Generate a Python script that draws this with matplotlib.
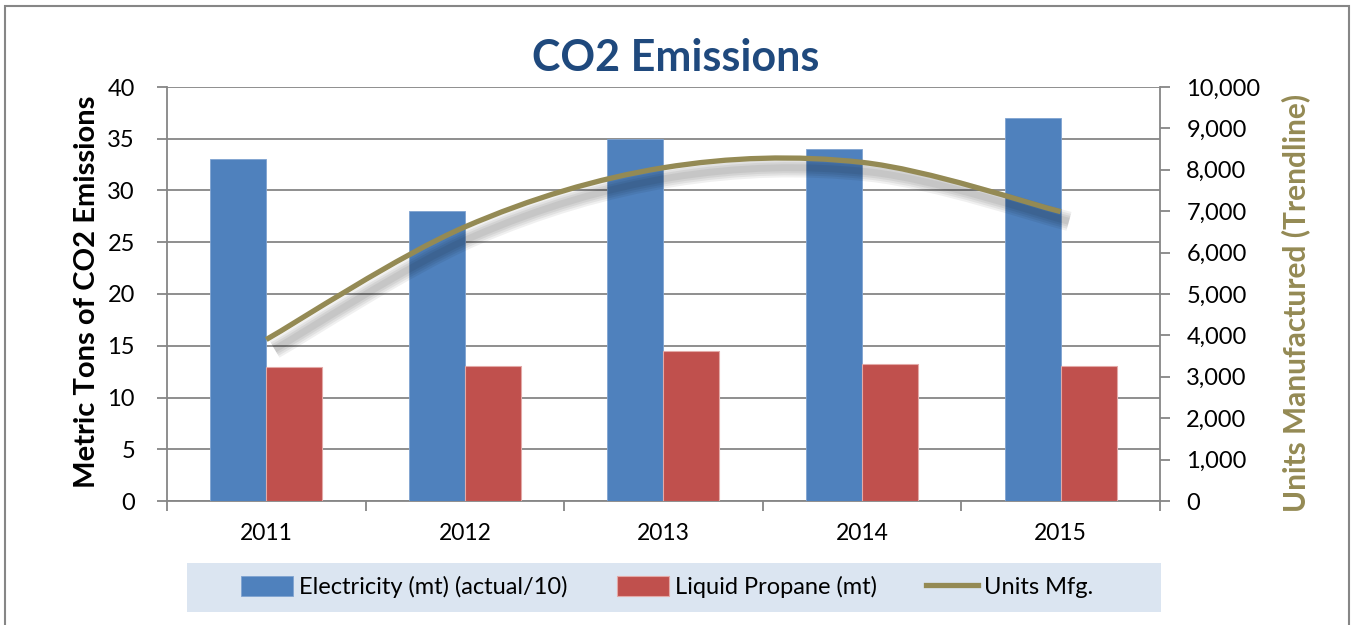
import numpy as np
import matplotlib.pyplot as plt
import matplotlib.patheffects as pe
from matplotlib.path import Path
from matplotlib.patches import PathPatch, Rectangle
from matplotlib.lines import Line2D
from matplotlib.ticker import FuncFormatter

years = ['2011', '2012', '2013', '2014', '2015']
electricity = [33, 28, 35, 34, 37]          # mt, actual/10
propane = [12.9, 13.0, 14.5, 13.2, 13.0]    # mt
units_mfg = [3900, 6620, 8050, 8180, 6990]  # trendline values

plt.rcParams['font.family'] = ['Lato', 'DejaVu Sans']
grey = '#868686'
olive = '#948A54'

fig = plt.figure(figsize=(13.54, 6.25), dpi=100)
# outer chart border
fig.add_artist(Rectangle((5/1354, -0.05), 1344/1354, 1.05 - 6/625, transform=fig.transFigure,
                         fill=False, edgecolor=grey, lw=1.5))

ax = fig.add_axes([0.1233, 0.1984, 0.7334, 0.6624])
ax2 = ax.twinx()

x = np.arange(len(years))
w = 0.282
b1 = ax.bar(x - w/2, electricity, w, color='#4F81BD', edgecolor='#7FA3D1', lw=0.6, zorder=3)
b2 = ax.bar(x + w/2, propane, w, color='#C0504D', edgecolor='#E3A9A7', lw=0.8, zorder=3)

ax.set_xlim(-0.5, 4.5)
ax.set_ylim(0, 40)
ax.set_yticks(range(0, 41, 5))
ax.set_axisbelow(True)
ax.yaxis.grid(True, color=grey, lw=1.3)
ax.set_xticks(np.arange(-0.5, 5, 1))
ax.set_xticklabels([])
ax.set_xticks(x, minor=True)
ax.set_xticklabels(years, minor=True)
ax.tick_params(axis='x', which='major', length=7, width=1.3, color=grey, direction='out')
ax.tick_params(axis='x', which='minor', length=0, pad=16, labelsize=16.5)
ax.tick_params(axis='y', length=7, width=1.3, color=grey, pad=16, labelsize=17)
for s in ['left', 'bottom']:
    ax.spines[s].set_color(grey)
    ax.spines[s].set_linewidth(1.3)
ax.spines['top'].set_visible(False)
ax.spines['right'].set_visible(False)

# trendline: smooth curve through the yearly values
pts = np.column_stack([x, units_mfg]).astype(float)
ext = np.vstack([pts[0], pts, pts[-1]])
verts = [tuple(pts[0])]
codes = [Path.MOVETO]
for i in range(len(pts) - 1):
    p0, p1, p2, p3 = ext[i], ext[i + 1], ext[i + 2], ext[i + 3]
    verts += [tuple(p1 + (p2 - p0) / 6), tuple(p2 - (p3 - p1) / 6), tuple(p2)]
    codes += [Path.CURVE4] * 3
shadow = [pe.SimpleLineShadow(offset=(6, -7), shadow_color='k', alpha=0.06, linewidth=lw)
          for lw in (14, 11, 8, 5)]
trend = PathPatch(Path(verts, codes), fill=False, edgecolor=olive, lw=3.8, capstyle='butt',
                  path_effects=shadow + [pe.Normal()], zorder=4)
ax2.add_patch(trend)

ax2.set_ylim(0, 10000)
ax2.set_yticks(range(0, 10001, 1000))
ax2.yaxis.set_major_formatter(FuncFormatter(lambda v, p: f'{v:,.0f}'))
ax2.tick_params(axis='y', length=7, width=1.3, color=grey, pad=12, labelsize=17)
ax2.spines['right'].set_color(grey)
ax2.spines['right'].set_linewidth(1.3)
for s in ['left', 'bottom', 'top']:
    ax2.spines[s].set_visible(False)

fig.text(0.499, 0.907, 'CO2 Emissions', ha='center', va='center', fontsize=31,
         fontweight='bold', color='#1F497D')
fig.text(87/1354, 0.5336, 'Metric Tons of CO2 Emissions', rotation=90, ha='center', va='center',
         fontsize=21, fontweight='bold', color='black')
fig.text(1296/1354, 0.516, 'Units Manufactured (Trendline)', rotation=90, ha='center', va='center',
         fontsize=21.5, fontweight='bold', color=olive)

# legend
fig.add_artist(Rectangle((187/1354, 1 - 612/625), 974/1354, 49/625, transform=fig.transFigure,
                         facecolor='#DBE5F1', edgecolor='none'))
handles = [b1, b2, Line2D([], [], color=olive, lw=3.8)]
labels = ['Electricity (mt) (actual/10)', 'Liquid Propane (mt)', 'Units Mfg.']
fig.legend(handles, labels, loc='center', bbox_to_anchor=(667/1354, 0.0608), ncol=3,
           frameon=False, fontsize=17, handlelength=2.2, handleheight=0.9,
           handletextpad=0.25, columnspacing=2.1)

fig.savefig('out.png', dpi=100)
